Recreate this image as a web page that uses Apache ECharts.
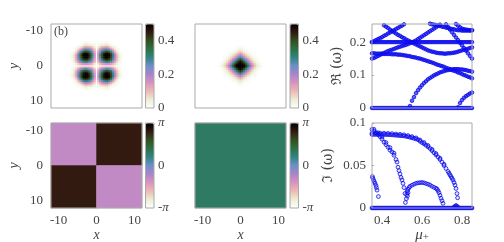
<!DOCTYPE html>
<html><head><meta charset="utf-8">
<style>html,body{margin:0;padding:0;background:#fff}#c{width:504px;height:242px}</style>
<script src="https://cdn.jsdelivr.net/npm/echarts@6/dist/echarts.min.js"></script>
</head><body><div id="c"></div>
<script>
// ---- density tables: one quadrant, rows = |y|, cols = |x|, step 0.5
const step = 0.5;
const lobesQuadrant = [
[0,0,0,0,0,0,0,0,0,0,0,0,0,0,0],
[0,.05,.09,.12,.14,.15,.16,.15,.13,.10,.07,.04,.02,.01,0],
[0,.09,.16,.21,.25,.28,.29,.27,.23,.18,.12,.07,.03,.01,0],
[0,.12,.21,.28,.34,.38,.39,.37,.32,.24,.16,.10,.05,.02,.005],
[0,.14,.25,.34,.41,.46,.47,.44,.38,.28,.19,.11,.05,.02,.005],
[0,.15,.28,.38,.46,.51,.52,.48,.41,.30,.20,.12,.06,.03,.01],
[0,.16,.29,.39,.47,.52,.53,.50,.42,.31,.21,.12,.06,.03,.01],
[0,.15,.27,.37,.44,.48,.50,.47,.39,.28,.17,.09,.04,.015,.005],
[0,.13,.23,.32,.38,.41,.42,.39,.31,.21,.12,.06,.02,.01,0],
[0,.10,.18,.24,.28,.30,.31,.28,.21,.14,.08,.03,.01,0,0],
[0,.07,.12,.16,.19,.20,.21,.17,.12,.08,.04,.02,.01,0,0],
[0,.04,.07,.10,.11,.12,.12,.09,.06,.03,.02,.01,0,0,0],
[0,.02,.03,.05,.05,.06,.06,.04,.02,.01,.01,0,0,0,0],
[0,.01,.01,.02,.02,.03,.03,.015,.01,0,0,0,0,0,0],
[0,0,.005,.005,.005,.01,.01,.005,0,0,0,0,0,0,0]
];
const diamondQuadrant = [
[.56,.54,.50,.44,.36,.28,.20,.14,.09,.055,.03,.015,.005],
[.54,.51,.46,.39,.31,.23,.16,.11,.065,.04,.02,.01,0],
[.50,.46,.40,.32,.25,.18,.12,.08,.045,.025,.01,.005,0],
[.44,.39,.32,.25,.19,.13,.09,.05,.03,.015,.005,0,0],
[.36,.31,.25,.19,.14,.09,.06,.035,.02,.01,0,0,0],
[.28,.23,.18,.13,.09,.065,.04,.02,.01,.005,0,0,0],
[.20,.16,.12,.09,.06,.04,.02,.01,.005,0,0,0,0],
[.14,.11,.08,.05,.035,.02,.01,.005,0,0,0,0,0],
[.09,.065,.045,.03,.02,.01,.005,0,0,0,0,0,0],
[.055,.04,.025,.015,.01,.005,0,0,0,0,0,0,0],
[.03,.02,.01,.005,0,0,0,0,0,0,0,0,0],
[.015,.01,.005,0,0,0,0,0,0,0,0,0,0],
[.005,0,0,0,0,0,0,0,0,0,0,0,0]
];
// ---- phase panels (rows top to bottom)
const phaseLobes = [[-0.94, 2.51],[2.51, -0.94]];
const phaseDiamond = [[0.94]];
// ---- spectra: mu grid and branches that start at an index of it
const mu = [.35,.36,.37,.38,.39,.40,.41,.42,.43,.44,.45,.46,.47,.48,.49,.50,.51,.52,.53,.54,.55,.56,.57,.58,.59,.60,.61,.62,.63,.64,.65,.66,.67,.68,.69,.70,.71,.72,.73,.74,.75,.76,.77,.78,.79,.80,.81,.82,.83,.84,.85];
const reZero = [0,0,0,0,0,0,0,0,0,0,0,0,0,0,0,0,0,0,0,0,0,0,0,0,0,0,0,0,0,0,0,0,0,0,0,0,0,0,0,0,0,0,0,0,0,0,0,0,0,0,0];
const reFlat = [.2,.2,.2,.2,.2,.2,.2,.2,.2,.2,.2,.2,.2,.2,.2,.2,.2,.2,.2,.2,.2,.2,.2,.2,.2,.2,.2,.2,.2,.2,.2,.2,.2,.2,.2,.2,.2,.2,.2,.2,.2,.2,.2,.2,.2,.2,.2,.2,.2,.2,.2];
const reRiseA = [.150,.152,.155,.158,.161,.164,.167,.170,.173,.175,.177,.179,.182,.184,.186,.188,.190,.192,.194,.197,.199,.202,.205,.209,.213,.217,.221,.225,.229,.233,.237,.241,.245,.249,.253];
const reRiseB = [.200,.203,.206,.209,.212,.215,.219,.222,.226,.229,.233,.236,.240,.243,.247,.250,.254];
const reFallA = [.251,.247,.243,.238,.234,.230,.226,.222,.219,.215,.212,.208,.205,.202,.199,.196,.193,.190,.187,.184,.181,.178,.175,.173,.171,.170,.168,.167,.166,.166,.165,.165,.166,.166,.167,.168,.169,.171,.173,.175,.177,.178,.180,.182,.184];
const reFallB = [.166,.166,.165,.165,.165,.165,.164,.164,.164,.164,.163,.163,.163,.162,.162,.161,.160,.159,.158,.157,.155,.154,.153,.151,.150,.148,.146,.144,.142,.140,.138,.136,.133,.131,.129,.127,.125,.122,.120,.118,.115,.113,.111,.108,.106,.103,.100,.098,.095,.093,.090];
const reOnsetA = [.006,.022,.033,.045,.054,.062,.069,.076,.081,.087,.091,.095,.099,.102,.105,.108,.110,.112,.114,.115,.116,.117,.118,.118,.118,.117,.117,.116,.115,.113,.112,.110];
const reOnsetB = [.002,.015,.024,.031,.036,.040,.044,.047];
const reSteep = [.254,.246,.238,.230,.222,.214,.206,.198,.190,.182,.174,.166,.158,.150];
const reTopA = [.256,.254,.253,.252,.250,.249,.247,.246,.244,.243,.241,.240,.239,.237,.236,.236,.235,.235,.235,.235,.235,.236];
const reTopB = [.255,.250,.245,.241,.239,.238,.237,.236,.236];
const reBranches = [[reZero,0],[reFlat,0],[reRiseA,0],[reRiseB,0],[reFallA,6],[reFallB,0],[reOnsetA,19],[reOnsetB,43],[reSteep,37],[reTopA,29],[reTopB,42]];

const imZero = reZero;
const imArcAmu = [.35,.36,.37,.38,.39,.40,.41,.42,.43,.44,.45,.46,.47,.48,.49,.50,.51,.52,.53,.54,.55,.56,.57,.58,.59,.60,.61,.62,.63,.64,.65,.66,.67,.68,.69,.70,.71,.72,.73,.735,.74,.745,.75,.755,.76,.765,.77,.775,.778];
const imArcA = [.0865,.0865,.0866,.0866,.0866,.0865,.0865,.0864,.0863,.0862,.0860,.0858,.0856,.0854,.0852,.0850,.0847,.0843,.0838,.0832,.0826,.0819,.0812,.0804,.0785,.0770,.0755,.0738,.0720,.0700,.0675,.0650,.0625,.0600,.0570,.0540,.0500,.0465,.0430,.0410,.0390,.0370,.0350,.0330,.0300,.0270,.0230,.0170,.0120];
const imArcA2mu = [.35,.37,.39,.41,.43,.45,.47,.49,.51,.53,.55,.57,.59,.61,.63,.65,.67,.69,.71];
const imArcA2 = [.0880,.0882,.0882,.0880,.0878,.0875,.0871,.0867,.0861,.0852,.0840,.0825,.0800,.0770,.0735,.0690,.0640,.0585,.0515];
const imArcBmu = [.35,.36,.37,.38,.39,.40,.41,.42,.43,.44,.45,.46,.47,.475,.48,.485,.49,.495,.50,.505,.51,.515,.517];
const imArcB = [.0925,.0905,.0885,.0865,.0840,.0810,.0775,.0745,.0715,.0680,.0660,.0620,.0570,.0540,.0480,.0440,.0400,.0360,.0330,.0290,.0240,.0170,.0065];
const imArcB2mu = [.36,.38,.40,.42,.44,.46];
const imArcB2 = [.0925,.0885,.0835,.0770,.0710,.0645];
const imSmallMu = [.352,.354,.358,.361,.365,.37,.372,.375,.382];
const imSmall = [.037,.035,.033,.031,.029,.0265,.024,.021,.0135];
const imHumpMu = [.522,.524,.526,.527,.53,.53,.535,.54,.55,.56,.57,.58,.59,.60,.61,.62,.63,.64,.65,.66,.67,.675,.68,.685,.69,.695,.70,.705];
const imHump = [.011,.016,.020,.014,.018,.022,.024,.0255,.0268,.028,.029,.0295,.0298,.030,.0296,.0288,.028,.027,.0255,.0243,.0232,.0222,.0205,.018,.015,.0115,.0085,.0055];
const imBumpMu = [.76,.765,.77,.775,.78];
const imBump = [.001,.002,.003,.002,.001];

const xTicks = [-10,0,10], yTicks = [-10,0,10];
const densityTicks = [0,.2,.4], phaseTicks = [-Math.PI,0,Math.PI];
const phaseNames = {'-3.14':'-{i|π}','0.00':'0','3.14':'{i|π}'};
const reTicks = [0,.1,.2], imTicks = [0,.05,.1], muTicks = [.4,.6,.8];
const palette = ['#ffffff','#ecedd2','#edb9b4','#da92bf','#a983cb','#6c8fca','#2f8580','#2e6f45','#33501f','#321a10','#000000'];

const FONT='"Liberation Serif"', TXT='#444', FRAME='#aaa', BLUE='#0c0cee';
const grid=[],xAxis=[],yAxis=[],series=[],visualMap=[];
const label=(vals,extra)=>Object.assign({show:true,customValues:vals,fontFamily:FONT,fontSize:13,color:TXT,margin:5},extra||{});

function frame(b){ const g=grid.length;
  grid.push(Object.assign({show:true,borderColor:FRAME,borderWidth:1,backgroundColor:'transparent',z:6,outerBoundsMode:'none',containLabel:false},b));
  return g; }
function labelAxes(g,xo,yo){
  xAxis.push(Object.assign({type:'value',gridIndex:g,position:'bottom',axisLine:{show:false},axisTick:{show:false},splitLine:{show:false},axisLabel:{show:false}},xo));
  yAxis.push(Object.assign({type:'value',gridIndex:g,position:'left',axisLine:{show:false},axisTick:{show:false},splitLine:{show:false},axisLabel:{show:false}},yo));
  return xAxis.length-1;
}
function heat(b,data,nx,ny,min,max,bar,xo,yo){
  const g=frame(b);
  labelAxes(g,xo,yo);
  const cx=Array.from({length:nx},(_,i)=>i), cy=Array.from({length:ny},(_,i)=>i);
  xAxis.push({type:'category',gridIndex:g,show:false,data:cx});
  yAxis.push({type:'category',gridIndex:g,show:false,inverse:true,data:cy});
  const si=series.length;
  series.push({type:'heatmap',xAxisIndex:xAxis.length-1,yAxisIndex:yAxis.length-1,data,progressive:0,animation:false,silent:true});
  visualMap.push({type:'continuous',seriesIndex:si,dimension:2,min,max,show:true,calculable:false,hoverLink:false,
    text:null,padding:0,orient:'vertical',left:bar.left,top:b.top,itemWidth:bar.w,itemHeight:b.height,inRange:{color:palette}});
  const bg=frame({left:bar.left,top:b.top,width:bar.w,height:b.height});
  const isPhase=max>1;
  labelAxes(bg,{min:0,max:1},{min,max,position:'right',
    axisLabel:label(isPhase?phaseTicks:densityTicks,{margin:4,
      rich:{i:{fontFamily:FONT,fontStyle:'italic',fontSize:13,color:TXT}},
      formatter:v=>isPhase?phaseNames[v.toFixed(2)]:String(+v.toFixed(1))})});
}
function expand(q){ const n=24,out=[];
  for(let r=-n;r<=n;r++)for(let c=-n;c<=n;c++){
    const row=q[Math.abs(r)], v=row?row[Math.abs(c)]:undefined;
    if(v) out.push([c+n,r+n,v]);
  } return out; }
function cells(m){ const out=[]; m.forEach((row,r)=>row.forEach((v,c)=>out.push([c,r,v]))); return out; }

const W=91,H=84,Hb=85,T=24,Tb=123,LA=51,LB=195;
const xlab={min:-12,max:12};
const ylab={min:-12,max:12,inverse:true};
const nm={nameLocation:'middle',nameRotate:90,nameTextStyle:{fontFamily:FONT,fontStyle:'italic',fontSize:14,color:TXT}};
const xnm={name:'x',nameLocation:'middle',nameGap:19,nameTextStyle:{fontFamily:FONT,fontStyle:'italic',fontSize:14,color:TXT}};
const barA={left:145.5,w:8.5}, barB={left:290,w:8.5};

heat({left:LA,top:T,width:W,height:H},expand(lobesQuadrant),49,49,0,.5,barA,xlab,
  Object.assign({},ylab,nm,{name:'y',nameGap:28,axisLabel:label(yTicks,{margin:8})}));
heat({left:LB,top:T,width:W,height:H},expand(diamondQuadrant),49,49,0,.5,barB,xlab,ylab);
heat({left:LA,top:Tb,width:W,height:Hb},cells(phaseLobes),2,2,-Math.PI,Math.PI,barA,
  Object.assign({},xlab,xnm,{axisLabel:label(xTicks,{margin:6})}),
  Object.assign({},ylab,nm,{name:'y',nameGap:28,axisLabel:label(yTicks,{margin:8})}));
heat({left:LB,top:Tb,width:W,height:Hb},cells(phaseDiamond),1,1,-Math.PI,Math.PI,barB,
  Object.assign({},xlab,xnm,{axisLabel:label(xTicks,{margin:6})}),ylab);

function spectrum(b,ymax,yTickVals,name,gap,xo,branches,fill,size){
  const g=frame(b);
  const tick=vals=>({show:true,inside:true,length:2,customValues:vals,lineStyle:{color:FRAME,width:1}});
  labelAxes(g,Object.assign({min:.35,max:.85,axisTick:tick(muTicks)},xo),
    Object.assign({},nm,{min:0,max:ymax,name,nameGap:gap,axisTick:tick(yTickVals),
      nameTextStyle:{fontFamily:'"DejaVu Serif","Liberation Serif"',fontSize:14,color:TXT},
      axisLabel:label(yTickVals,{margin:6,formatter:v=>String(+v.toFixed(2))})}));
  const xi=xAxis.length-1, yi=yAxis.length-1;
  branches.forEach((data,k)=>series.push({type:'scatter',xAxisIndex:xi,yAxisIndex:yi,data,clip:false,symbol:'circle',symbolSize:size,
    silent:true,animation:false,itemStyle:{color:k===0?BLUE:fill,borderColor:BLUE,borderWidth:1}}));
}
const zip=(a,b)=>a.map((v,i)=>[v,b[i]]);
spectrum({left:372,top:T,width:100,height:H},.255,reTicks,'ℜ (ω)',28,{},
  reBranches.map(([v,s])=>zip(mu.slice(s),v)),'rgba(12,12,238,.8)',3.6);
spectrum({left:372,top:Tb,width:100,height:Hb},.1,imTicks,'ℑ (ω)',37,
  {name:'{m|μ}{s|+}',nameLocation:'middle',nameGap:20,nameTextStyle:{fontFamily:FONT,fontSize:14,color:TXT,
     rich:{m:{fontFamily:FONT,fontStyle:'italic',fontSize:15,color:TXT},s:{fontFamily:FONT,fontSize:11,color:TXT,verticalAlign:'bottom',padding:[4,0,0,0]}}},
   axisLabel:label(muTicks,{margin:6,formatter:v=>v.toFixed(1)})},
  [zip(mu,imZero),zip(imArcAmu,imArcA),zip(imArcA2mu,imArcA2),zip(imArcBmu,imArcB),zip(imArcB2mu,imArcB2),zip(imSmallMu,imSmall),zip(imHumpMu,imHump),zip(imBumpMu,imBump)],'rgba(12,12,238,.12)',3.8);

const chart=echarts.init(document.getElementById('c'),null,{renderer:'canvas'});
chart.setOption({animation:false,backgroundColor:'#fff',
  title:{text:'(b)',left:54,top:26,padding:0,textStyle:{fontFamily:FONT,fontWeight:'normal',fontSize:12,color:TXT}},
  grid,xAxis,yAxis,series,visualMap,tooltip:{show:false}});
</script></body></html>
